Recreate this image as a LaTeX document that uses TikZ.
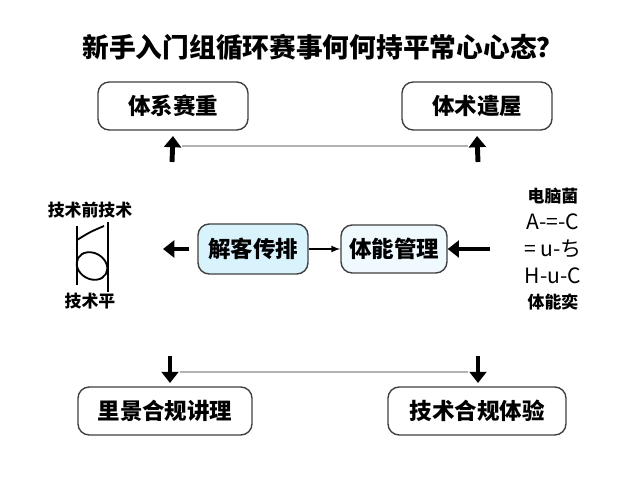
\documentclass[tikz,border=0pt]{standalone}
\usepackage{fontspec}
\setmainfont{Noto Sans CJK SC}
\usetikzlibrary{arrows.meta}
\tikzset{
  box/.style={draw=black!75, line width=1pt, rounded corners=8pt, fill=white, minimum height=1.2cm, font=\fontsize{16}{18}\selectfont\bfseries},
  bluebox/.style={box, fill=cyan!15, minimum height=1.25cm},
  fat/.style={-{Triangle[length=8pt,width=12pt]}, line width=3.5pt},
  side/.style={font=\fontsize{12}{14}\selectfont\bfseries},
  formula/.style={font=\fontsize{15}{17}\selectfont}
}
\begin{document}
\begin{tikzpicture}[x=0.025cm,y=-0.025cm,>=latex]
    \useasboundingbox (0,0) rectangle (640,480);
    \node (title) at (323,47) {\fontsize{19}{21}\selectfont\bfseries 新手入门组循环赛事何何持平常心心态？};

    \node [box, minimum width=3.75cm](sysw) at (173,106) {体系赛重};
    \node [box, minimum width=3.75cm](tech) at (477,106) {体术遣屋};
    \coordinate (upl) at (172,162);
    \coordinate (upr) at (478,162);
    \draw [fat] (upl) -- (sysw.south |- 0,136);
    \draw [fat] (upr) -- (tech.south |- 0,136);
    \draw [black!30, line width=0.8pt] (182,146) -- (468,146);

    \node [bluebox, minimum width=2.75cm](jieke) at (253,249) {解客传排};
    \node [box, fill=cyan!6, minimum width=2.65cm](tineng) at (394,249) {体能管理};
    \coordinate (lout) at (163,249);
    \draw [fat] (jieke.west) ++(-8,0) -- (lout);
    \draw [->, line width=1.2pt] (jieke.east) -- (tineng.west);
    \coordinate (rin) at (490,249);
    \draw [fat] (rin) -- (tineng.east);

    \node [side](ltop) at (90,210) {技术前技术};
    \node [side](lbot) at (90,301) {技术平};
    \draw [line width=1.3pt] (77,226) -- (77,285);
    \draw [line width=1.3pt] (108,222) -- (108,292);
    \draw [line width=1.3pt] (77,240) .. controls (90,232) .. (104,226);
    \draw [line width=1.3pt, rotate around={-30:(92,266)}] (92,266) ellipse (16 and 13);

    \node [side](rtop) at (553,196) {电脑菌};
    \node [formula](f1) at (553,222) {A-=-C};
    \node [formula](f2) at (553,249) {= u-ち};
    \node [formula](f3) at (553,276) {H-u-C};
    \node [side](rbot) at (553,302) {体能奕};

    \node [box, minimum width=4.35cm](lijing) at (165,411) {里景合规讲理};
    \node [box, minimum width=4.45cm](jishu) at (477,411) {技术合规体验};
    \coordinate (dnl) at (170,356);
    \coordinate (dnr) at (478,356);
    \draw [fat] (dnl) -- (170,383);
    \draw [fat] (dnr) -- (478,383);
    \draw [black!30, line width=0.8pt] (180,372) -- (468,372);
\end{tikzpicture}
\end{document}
